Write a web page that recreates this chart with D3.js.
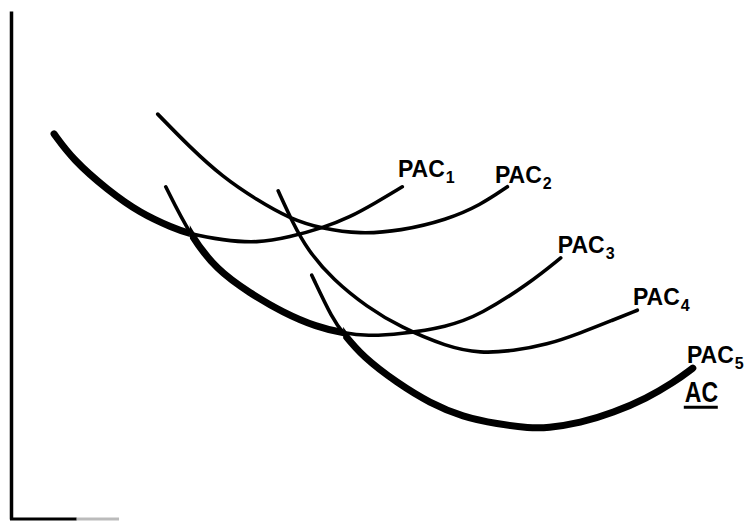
<!DOCTYPE html>
<html>
<head>
<meta charset="utf-8">
<script src="https://cdn.jsdelivr.net/npm/d3@7"></script>
<style>
  body { margin: 0; background: #fff; }
</style>
</head>
<body>
<div id="chart"></div>
<script>
// plant average cost curves (output, cost)
const pac1X = [5.9, 8.5, 13.2, 17.7, 22.2, 24.5, 29.0, 33.7, 38.2, 42.7, 46.4, 49.9, 53.6];
const pac1Y = [75.8, 70.7, 64.8, 60.2, 57.3, 56.1, 54.9, 54.3, 55.5, 57.3, 59.4, 62.2, 65.4];
const pac2X = [20.1, 24.5, 29.0, 33.7, 38.2, 42.7, 47.8, 53.3, 59.7, 64.3, 68.0];
const pac2Y = [79.7, 73.2, 67.3, 62.8, 59.1, 57.1, 56.1, 56.7, 58.9, 61.8, 65.4];
const pac3X = [21.2, 24.5, 28.2, 32.7, 37.3, 41.9, 45.5, 48.8, 53.3, 59.7, 64.3, 71.1, 75.3];
const pac3Y = [65.4, 55.9, 49.0, 44.5, 40.6, 37.8, 36.6, 36.0, 36.4, 37.8, 40.2, 46.5, 51.4];
const pac4X = [36.6, 38.6, 40.6, 44.1, 48.8, 53.3, 59.7, 64.3, 68.8, 73.4, 78.0, 82.5, 85.8];
const pac4Y = [64.6, 58.3, 53.0, 47.1, 41.7, 37.8, 33.9, 32.6, 33.1, 34.3, 36.6, 39.2, 41.1];
const pac5X = [41.2, 44.1, 45.5, 48.2, 52.9, 57.4, 61.9, 66.6, 71.1, 73.4, 78.0, 82.5, 87.1, 90.7, 93.4];
const pac5Y = [48.0, 39.2, 36.6, 31.9, 26.8, 22.8, 20.1, 18.7, 17.9, 17.9, 18.9, 20.9, 23.8, 26.8, 29.7];

const curveName = "PAC";
const subscripts = ["1", "2", "3", "4", "5"];
const envelopeName = "AC";

// the AC envelope: which PAC curve forms it between which outputs
const envelopeCurves = [0, 2, 4];
const envelopeBreaks = [0, 24.5, 45.5, 100];

// label anchors (output, cost)
const labelX = [53.0, 66.3, 74.9, 85.2, 92.6];
const labelY = [67.3, 66.1, 52.4, 42.1, 30.7];
const acLabelX = 92.3, acLabelY = 23.0;

const curves = [[pac1X, pac1Y], [pac2X, pac2Y], [pac3X, pac3Y], [pac4X, pac4Y], [pac5X, pac5Y]]
    .map(([xs, ys]) => xs.map((v, i) => [v, ys[i]]));

// set the dimensions of the graph
const width = 748, height = 526;

const svg = d3.select("#chart")
    .append("svg")
    .attr("width", width)
    .attr("height", height);

const x = d3.scaleLinear().domain([0, 100]).range([11, 741]);
const y = d3.scaleLinear().domain([0, 100]).range([519, 11]);

// axes (no ticks)
svg.append("g")
    .attr("transform", `translate(${x(0)},0)`)
    .call(d3.axisLeft(y).ticks(0).tickSizeOuter(0))
    .call(g => g.select(".domain").attr("stroke", "#000").attr("stroke-width", 3.5));
svg.append("line")
    .attr("x1", x(0) - 1).attr("x2", x(9))
    .attr("y1", y(0)).attr("y2", y(0))
    .attr("stroke", "#000").attr("stroke-width", 3);
svg.append("line")
    .attr("x1", x(9)).attr("x2", x(14.8))
    .attr("y1", y(0)).attr("y2", y(0))
    .attr("stroke", "#bbb").attr("stroke-width", 3);

const line = d3.line()
    .x(d => x(d[0]))
    .y(d => y(d[1]))
    .curve(d3.curveBasis);

// thin PAC curves
svg.selectAll("path.pac")
    .data(curves)
    .enter()
    .append("path")
    .attr("class", "pac")
    .attr("d", line)
    .attr("fill", "none")
    .attr("stroke", "#000")
    .attr("stroke-width", 3.6)
    .attr("stroke-linecap", "round");

// thick AC envelope, drawn over the pieces of the PAC curves
const defs = svg.append("defs");
envelopeCurves.forEach((c, i) => {
    defs.append("clipPath")
        .attr("id", "env" + i)
        .append("rect")
        .attr("x", x(envelopeBreaks[i]))
        .attr("width", x(envelopeBreaks[i + 1]) - x(envelopeBreaks[i]))
        .attr("y", 0)
        .attr("height", height);
    svg.append("path")
        .attr("d", line(curves[c]))
        .attr("clip-path", `url(#env${i})`)
        .attr("fill", "none")
        .attr("stroke", "#000")
        .attr("stroke-width", 7)
        .attr("stroke-linecap", "round");
});

// curve labels
const labels = svg.selectAll("text.lab")
    .data(subscripts)
    .enter()
    .append("text")
    .attr("class", "lab")
    .attr("x", (d, i) => x(labelX[i]))
    .attr("y", (d, i) => y(labelY[i]))
    .style("font-family", "'Liberation Sans', Arial, sans-serif")
    .style("font-weight", "bold")
    .style("font-size", "23px");
labels.append("tspan").text(curveName);
labels.append("tspan")
    .attr("dx", 1)
    .attr("dy", 6)
    .style("font-size", "16px")
    .text(d => d);

// AC label, underlined
svg.append("text")
    .attr("transform", `translate(${x(acLabelX)},${y(acLabelY)}) scale(1,1.3)`)
    .style("font-family", "'Liberation Sans', Arial, sans-serif")
    .style("font-weight", "bold")
    .style("font-size", "23px")
    .text(envelopeName);
svg.append("line")
    .attr("x1", x(acLabelX) - 1).attr("x2", x(acLabelX) + 33)
    .attr("y1", y(acLabelY) + 5).attr("y2", y(acLabelY) + 5)
    .attr("stroke", "#000").attr("stroke-width", 3);
</script>
</body>
</html>
